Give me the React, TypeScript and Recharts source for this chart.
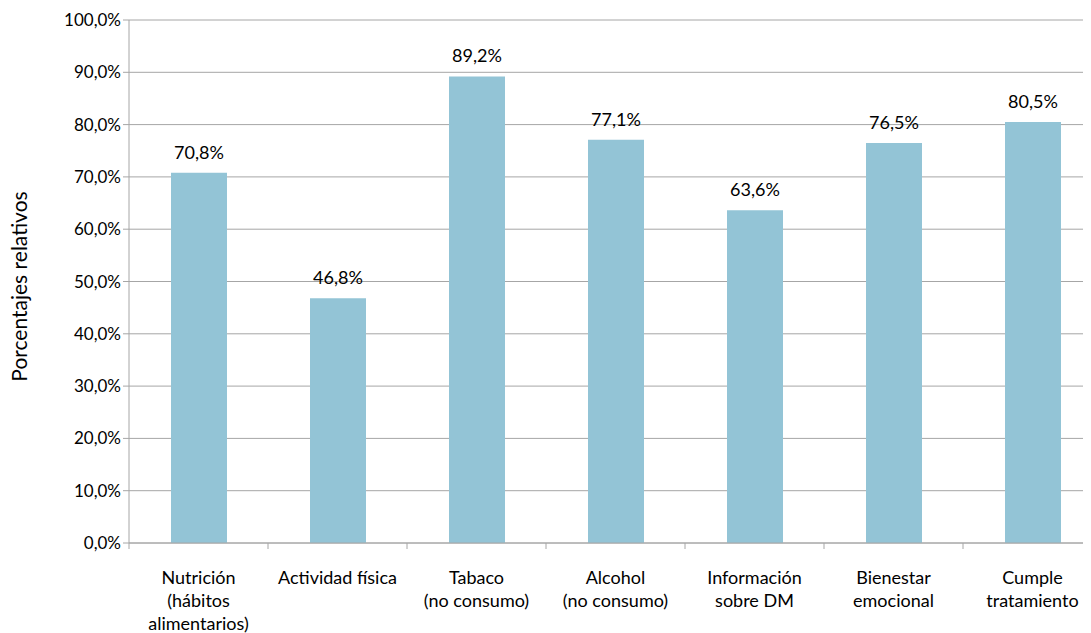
import React from "react";
import { BarChart, Bar, XAxis, YAxis, CartesianGrid, LabelList } from "recharts";

const categories = [
  ["Nutrición", "(hábitos", "alimentarios)"],
  ["Actividad física"],
  ["Tabaco", "(no consumo)"],
  ["Alcohol", "(no consumo)"],
  ["Información", "sobre DM"],
  ["Bienestar", "emocional"],
  ["Cumple", "tratamiento"],
];
const percentages = [70.8, 46.8, 89.2, 77.1, 63.6, 76.5, 80.5];
const yTicks = [0, 10, 20, 30, 40, 50, 60, 70, 80, 90, 100];

const data = categories.map((lines, i) => ({
  name: lines.join(" "),
  lines,
  value: percentages[i],
}));

const FONT = "Lato, 'Open Sans', sans-serif";
const GRID = "#A6A6A6";
const BAND = 139;

const fmt = (v: number) => `${v.toFixed(1).replace(".", ",")}%`;

const CategoryTick = (props: any) => {
  const { x, y, payload, index } = props;
  const lines: string[] = data[index]?.lines ?? [payload.value];
  return (
    <g>
      <line x1={x - BAND / 2} x2={x - BAND / 2} y1={y - 8} y2={y - 2} stroke={GRID} />
      <text x={x} y={y + 33} textAnchor="middle" fontSize={18} fontFamily={FONT} fill="#000">
        {lines.map((l, i) => (
          <tspan key={i} x={x} dy={i === 0 ? 0 : 23}>
            {l}
          </tspan>
        ))}
      </text>
    </g>
  );
};

const AxisTitle = (props: any) => {
  const { viewBox } = props;
  const cy = viewBox.y + viewBox.height / 2 + 5;
  return (
    <text
      x={18}
      y={cy}
      transform={`rotate(-90, 18, ${cy})`}
      textAnchor="middle"
      dominantBaseline="central"
      fontSize={21}
      fontFamily={FONT}
      fill="#000"
    >
      Porcentajes relativos
    </text>
  );
};

export default function App() {
  return (
    <div style={{ margin: "-8px 0 0 -8px", width: 1091, height: 633, overflow: "hidden", background: "#fff" }}>
      <BarChart
        width={1110}
        height={633}
        data={data}
        margin={{ top: 20, right: 8, left: 40, bottom: 0 }}
        barSize={56}
      >
        <CartesianGrid vertical={false} stroke={GRID} />
        <XAxis
          dataKey="name"
          height={90}
          interval={0}
          stroke={GRID}
          tickLine={false}
          tick={<CategoryTick />}
        />
        <YAxis
          width={89}
          domain={[0, 100]}
          ticks={yTicks}
          tickFormatter={fmt}
          stroke={GRID}
          tickSize={6}
          tick={{ fontSize: 17, fontFamily: FONT, fill: "#000" }}
          label={<AxisTitle />}
        />
        <Bar dataKey="value" fill="#93C4D6" isAnimationActive={false}>
          <LabelList
            dataKey="value"
            position="top"
            offset={14}
            formatter={(v: any) => fmt(Number(v))}
            style={{ fontSize: 18, fontFamily: FONT, fill: "#000" }}
          />
        </Bar>
      </BarChart>
    </div>
  );
}
